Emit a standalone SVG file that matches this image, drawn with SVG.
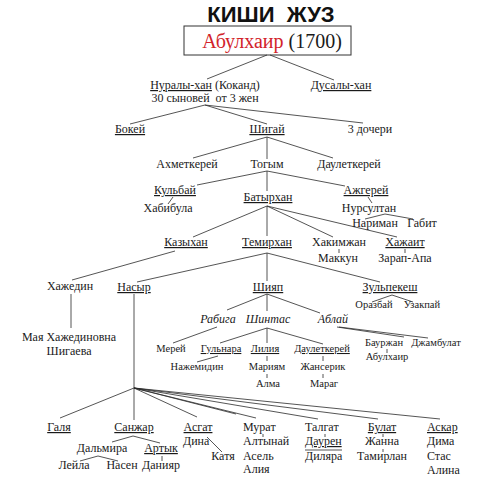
<svg xmlns="http://www.w3.org/2000/svg" width="484" height="480" viewBox="0 0 484 480">
<style>
text{font-family:"Liberation Serif","DejaVu Serif","Times New Roman",serif;font-size:12px;fill:#1a1a1a;text-anchor:middle}
.s{font-size:10.5px}
.i{font-style:italic}
.l{text-anchor:start}
.u{text-decoration:underline}
#connectors line{stroke:#2a2a2a;stroke-width:0.8;fill:none}
</style>
<rect width="484" height="480" fill="#fff"/>
<g id="title"><text x="271" y="22" style="font-family:'Liberation Sans',Arial,sans-serif;font-weight:bold;font-size:22px;fill:#111" xml:space="preserve">КИШИ  ЖУЗ</text></g>
<g id="abulkhair"><rect x="184" y="26" width="167" height="29" fill="#fff" stroke="#333" stroke-width="1"/><text x="272" y="48" style="font-size:20px"><tspan fill="#d2232a">Абулхаир</tspan> (1700)</text></g>
<g id="connectors">
<line x1="267" y1="55" x2="207" y2="79"/><line x1="270" y1="55" x2="334" y2="80"/>
<line x1="205" y1="105" x2="130" y2="124"/><line x1="205" y1="105" x2="267" y2="124"/><line x1="205" y1="105" x2="363" y2="123"/>
<line x1="267" y1="137" x2="193" y2="158"/><line x1="267" y1="137" x2="267" y2="159"/><line x1="267" y1="137" x2="333" y2="158"/>
<line x1="267" y1="171" x2="197" y2="185"/><line x1="267" y1="171" x2="267" y2="191"/><line x1="267" y1="171" x2="345" y2="186"/>
<line x1="173" y1="197" x2="168" y2="204"/>
<line x1="368" y1="197" x2="372" y2="203"/>
<line x1="385" y1="214" x2="365" y2="219"/><line x1="385" y1="214" x2="413" y2="219"/>
<line x1="267" y1="206" x2="193" y2="237"/><line x1="267" y1="206" x2="267" y2="236"/><line x1="267" y1="206" x2="333" y2="237"/><line x1="267" y1="206" x2="397" y2="237"/>
<line x1="339" y1="249" x2="339" y2="253"/><line x1="405" y1="249" x2="405" y2="253"/>
<line x1="175" y1="251" x2="72" y2="280"/>
<line x1="267" y1="253" x2="137" y2="282"/><line x1="267" y1="253" x2="267" y2="281"/><line x1="267" y1="253" x2="380" y2="282"/>
<line x1="392" y1="295" x2="372" y2="302"/><line x1="392" y1="295" x2="413" y2="302"/>
<line x1="71" y1="294" x2="71" y2="328"/>
<line x1="134" y1="294" x2="134" y2="420"/>
<line x1="267" y1="294" x2="227" y2="310"/><line x1="267" y1="294" x2="267" y2="311"/><line x1="267" y1="294" x2="320" y2="313"/>
<line x1="217" y1="327" x2="173" y2="343"/>
<line x1="267" y1="328" x2="220" y2="343"/><line x1="267" y1="328" x2="267" y2="343"/><line x1="267" y1="328" x2="323" y2="344"/>
<line x1="337" y1="327" x2="404" y2="337"/><line x1="339" y1="327" x2="428" y2="338"/>
<line x1="387" y1="349" x2="387" y2="353"/>
<line x1="218" y1="356" x2="197" y2="362"/>
<line x1="267" y1="356" x2="267" y2="361"/><line x1="267" y1="374" x2="267" y2="378"/>
<line x1="323" y1="356" x2="323" y2="361"/><line x1="323" y1="374" x2="323" y2="378"/>
<line x1="134" y1="388" x2="60" y2="418"/><line x1="134" y1="388" x2="197" y2="417"/><line x1="134" y1="388" x2="236" y2="414"/><line x1="134" y1="388" x2="256" y2="418"/><line x1="134" y1="388" x2="318" y2="419"/><line x1="134" y1="388" x2="378" y2="419"/><line x1="134" y1="388" x2="440" y2="419"/>
<line x1="133" y1="436" x2="112" y2="442"/><line x1="133" y1="436" x2="160" y2="443"/>
<line x1="98" y1="456" x2="80" y2="461"/><line x1="98" y1="456" x2="118" y2="461"/>
<line x1="162" y1="456" x2="162" y2="461"/>
<line x1="207" y1="437" x2="222" y2="452"/>
<line x1="263" y1="434" x2="263" y2="437"/><line x1="325" y1="434" x2="325" y2="437"/><line x1="383" y1="434" x2="383" y2="437"/><line x1="383" y1="449" x2="383" y2="452"/>
<line x1="305" y1="450" x2="342" y2="450"/>
</g>
<g id="nuraly"><text x="205" y="89"><tspan class="u">Нуралы-хан</tspan> (Коканд)</text><text x="205" y="102" xml:space="preserve">30 сыновей  от 3 жен</text></g>
<g id="dusaly"><text x="341" y="89" class="u">Дусалы-хан</text></g>
<g id="bokey"><text x="130" y="133" class="u">Бокей</text></g>
<g id="shigay"><text x="267" y="133" class="u">Шигай</text></g>
<g id="docheri"><text x="370" y="133">3 дочери</text></g>
<g id="akhmetkerey"><text x="187" y="168">Ахметкерей</text></g>
<g id="togym"><text x="267" y="168">Тогым</text></g>
<g id="dauletkerey1"><text x="349" y="168">Даулеткерей</text></g>
<g id="kulbay"><text x="175" y="194" class="u">Кульбай</text></g>
<g id="khabibula"><text x="168" y="212">Хабибула</text></g>
<g id="batyrkhan"><text x="268" y="201" class="u">Батырхан</text></g>
<g id="azhgerey"><text x="366" y="194" class="u">Ажгерей</text></g>
<g id="nursultan"><text x="369" y="212">Нурсултан</text></g>
<g id="nariman"><text x="375" y="227">Нариман</text></g>
<g id="gabit"><text x="422" y="227">Габит</text></g>
<g id="kazykhan"><text x="186" y="246" class="u">Казыхан</text></g>
<g id="temirkhan"><text x="267" y="246" class="u">Темирхан</text></g>
<g id="khakimzhan"><text x="339" y="246">Хакимжан</text></g>
<g id="makkun"><text x="338" y="262">Маккун</text></g>
<g id="khazhait"><text x="405" y="246" class="u">Хажаит</text></g>
<g id="zarapapa"><text x="405" y="262">Зарап-Апа</text></g>
<g id="khazhedin"><text x="70" y="290">Хажедин</text></g>
<g id="nasyr"><text x="134" y="291" class="u">Насыр</text></g>
<g id="shiyap"><text x="268" y="291" class="u">Шияп</text></g>
<g id="zulpekesh"><text x="390" y="291" class="u">Зульпекеш</text></g>
<g id="orazbay"><text x="374" y="308" class="s">Оразбай</text></g>
<g id="uzakpay"><text x="422" y="308" class="s">Узакпай</text></g>
<g id="maya"><text x="69" y="341">Мая Хажединовна</text><text x="69" y="355">Шигаева</text></g>
<g id="rabiga"><text x="218" y="323" class="i">Рабига</text></g>
<g id="shintas"><text x="268" y="323" class="i">Шинтас</text></g>
<g id="ablay"><text x="333" y="323" class="i">Аблай</text></g>
<g id="merey"><text x="171" y="352" class="s">Мерей</text></g>
<g id="gulnara"><text x="221" y="352" class="s u">Гульнара</text></g>
<g id="liliya"><text x="265" y="352" class="s u">Лилия</text></g>
<g id="dauletkerey2"><text x="322" y="352" class="s u">Даулеткерей</text></g>
<g id="baurzhan"><text x="384" y="346" class="s">Бауржан</text></g>
<g id="dzhambulat"><text x="436" y="346" class="s">Джамбулат</text></g>
<g id="abulkhair2"><text x="387" y="360" class="s">Абулхаир</text></g>
<g id="nazhemidin"><text x="197" y="370" class="s">Нажемидин</text></g>
<g id="mariyam"><text x="267" y="370" class="s">Мариям</text></g>
<g id="zhanserik"><text x="323" y="370" class="s">Жансерик</text></g>
<g id="alma"><text x="268" y="387" class="s">Алма</text></g>
<g id="marag"><text x="324" y="387" class="s">Мараг</text></g>
<g id="galya"><text x="59" y="431" class="u">Галя</text></g>
<g id="sanzhar"><text x="134" y="431" class="u">Санжар</text></g>
<g id="dalmira"><text x="102" y="452">Дальмира</text></g>
<g id="artyk"><text x="161" y="452" class="u">Артык</text></g>
<g id="leyla"><text x="74" y="469">Лейла</text></g>
<g id="nasen"><text x="122" y="469">Насен</text></g>
<g id="daniyar"><text x="161" y="469">Данияр</text></g>
<g id="asgat"><text x="198" y="431" class="u">Асгат</text><text x="183" y="445" class="l">Дина</text></g>
<g id="katya"><text x="223" y="460">Катя</text></g>
<g id="murat"><text x="243" y="431" class="l">Мурат</text><text x="243" y="445" class="l">Алтынай</text><text x="243" y="460" class="l">Асель</text><text x="243" y="473" class="l">Алия</text></g>
<g id="talgat"><text x="305" y="431" class="l">Талгат</text><text x="305" y="445" class="l u">Даурен</text><text x="305" y="460" class="l">Диляра</text></g>
<g id="bulat"><text x="382" y="431" class="u">Булат</text><text x="382" y="445">Жанна</text><text x="382" y="460">Тамирлан</text></g>
<g id="askar"><text x="427" y="431" class="l u">Аскар</text><text x="427" y="445" class="l">Дима</text><text x="427" y="460" class="l">Стас</text><text x="427" y="474" class="l">Алина</text></g>
</svg>
